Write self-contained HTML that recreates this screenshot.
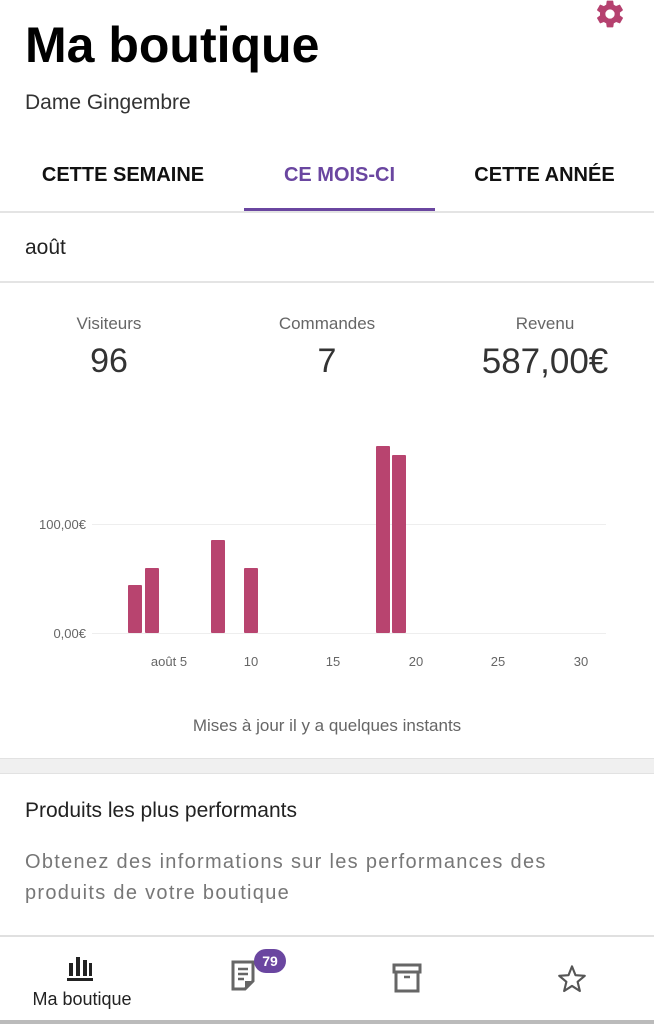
<!DOCTYPE html>
<html><head><meta charset="utf-8"><style>
body{margin:0;width:654px;height:1024px;background:#fff;font-family:"Liberation Sans",sans-serif;position:relative;overflow:hidden;color:#222}
.a{position:absolute}
</style></head><body>
<div class="a" style="left:25px;top:16px;font-size:50px;font-weight:bold;color:#000">Ma boutique</div>
<svg class="a" style="left:594px;top:-2px" width="32" height="32" viewBox="0 0 24 24"><path fill="#b5416f" d="M19.4 13c.04-.3.06-.65.06-1s-.02-.7-.07-1l2.1-1.650c.2-.15.24-.42.12-.64l-2-3.46c-.12-.22-.39-.3-.61-.22l-2.490 1c-.52-.4-1.080-.73-1.690-.98l-.38-2.65A.49.49 0 0 0 14 2h-4c-.25 0-.46.18-.49.42l-.38 2.65c-.61.25-1.170.59-1.690.98l-2.49-1c-.23-.09-.49 0-.61.22l-2 3.46c-.13.22-.07.49.12.64L4.57 11c-.04.32-.07.66-.07 1s.02.68.07 1l-2.11 1.65c-.19.15-.24.42-.12.64l2 3.46c.12.22.39.3.61.22l2.49-1c.52.4 1.08.73 1.69.98l.38 2.65c.03.24.24.42.49.42h4c.25 0 .46-.18.49-.42l.38-2.65c.61-.25 1.17-.59 1.69-.98l2.49 1c.23.09.49 0 .61-.22l2-3.46c.12-.22.07-.49-.12-.64L19.4 13zM12 15.5A3.5 3.5 0 1 1 12 8.5a3.5 3.5 0 0 1 0 7z"/></svg>
<div class="a" style="left:25px;top:91px;font-size:21px;color:#333">Dame Gingembre</div>
<div class="a" style="left:0;top:164px;width:246px;text-align:center;font-size:20px;font-weight:bold;color:#111">CETTE SEMAINE</div>
<div class="a" style="left:244px;top:164px;width:191px;text-align:center;font-size:20px;font-weight:bold;color:#6a46a0">CE MOIS-CI</div>
<div class="a" style="left:435px;top:164px;width:219px;text-align:center;font-size:20px;font-weight:bold;color:#111">CETTE ANNÉE</div>
<div class="a" style="left:244px;top:208px;width:191px;height:3px;background:#6a46a0"></div>
<div class="a" style="left:0;top:211px;width:654px;height:2px;background:#e4e4e4"></div>
<div class="a" style="left:25px;top:236px;font-size:21px;color:#222">août</div>
<div class="a" style="left:0;top:281px;width:654px;height:2px;background:#e4e4e4"></div>
<div class="a" style="left:30px;top:314px;width:158px;text-align:center;font-size:17px;color:#666">Visiteurs</div>
<div class="a" style="left:30px;top:342px;width:158px;text-align:center;font-size:34px;color:#333">96</div>
<div class="a" style="left:247px;top:314px;width:160px;text-align:center;font-size:17px;color:#666">Commandes</div>
<div class="a" style="left:247px;top:342px;width:160px;text-align:center;font-size:34px;color:#333">7</div>
<div class="a" style="left:465px;top:314px;width:160px;text-align:center;font-size:17px;color:#666">Revenu</div>
<div class="a" style="left:460px;top:342px;width:170px;text-align:center;font-size:35px;color:#333">587,00€</div>
<svg class="a" style="left:0;top:0" width="654" height="700">
<line x1="92" y1="524.5" x2="606" y2="524.5" stroke="#eee"/>
<line x1="92" y1="633.5" x2="606" y2="633.5" stroke="#eee"/>
<g font-family="Liberation Sans" font-size="13" fill="#666">
<text x="86" y="529" text-anchor="end">100,00€</text>
<text x="86" y="638" text-anchor="end">0,00€</text>
<text x="169" y="666" text-anchor="middle">août 5</text>
<text x="251" y="666" text-anchor="middle">10</text>
<text x="333" y="666" text-anchor="middle">15</text>
<text x="416" y="666" text-anchor="middle">20</text>
<text x="498" y="666" text-anchor="middle">25</text>
<text x="581" y="666" text-anchor="middle">30</text>
</g>
<g fill="#b8446f">
<rect x="128" y="585" width="14" height="48" rx="1"/>
<rect x="145" y="568" width="14" height="65" rx="1"/>
<rect x="211" y="540" width="14" height="93" rx="1"/>
<rect x="244" y="568" width="14" height="65" rx="1"/>
<rect x="376" y="446" width="14" height="187" rx="1"/>
<rect x="392" y="455" width="14" height="178" rx="1"/>
</g>
</svg>
<div class="a" style="left:0;top:716px;width:654px;text-align:center;font-size:17px;color:#666">Mises à jour il y a quelques instants</div>
<div class="a" style="left:0;top:758px;width:654px;height:14px;background:#f0f0f0;border-top:1px solid #e2e2e2;border-bottom:1px solid #e2e2e2"></div>
<div class="a" style="left:25px;top:799px;font-size:21px;color:#222">Produits les plus performants</div>
<div class="a" style="left:25px;top:847px;font-size:20px;letter-spacing:1.3px;line-height:31px;color:#777;white-space:nowrap">Obtenez des informations sur les performances des<br>produits de votre boutique</div>
<div class="a" style="left:0;top:935px;width:654px;height:2px;background:#e0e0e0"></div>
<svg class="a" style="left:66px;top:953px" width="32" height="30"><rect x="3" y="10" width="4" height="13" fill="#222"/><rect x="10" y="4" width="4" height="19" fill="#222"/><rect x="17" y="7" width="4" height="16" fill="#222"/><rect x="23" y="10" width="3" height="13" fill="#222"/><rect x="1" y="25" width="26" height="3" fill="#222"/></svg>
<div class="a" style="left:0;top:989px;width:164px;text-align:center;font-size:18px;color:#222">Ma boutique</div>
<svg class="a" style="left:230px;top:960px" width="30" height="36"><path d="M3 2h20v19l-8 8H3z" fill="none" stroke="#666" stroke-width="3"/><path d="M8 9h10M8 14h10M8 19h6" stroke="#666" stroke-width="2.5"/><path d="M15 29v-8h8z" fill="#666"/></svg>
<div class="a" style="left:254px;top:949px;width:32px;height:24px;border-radius:12px;background:#6a46a0;color:#fff;font-size:14px;font-weight:bold;text-align:center;line-height:24px">79</div>
<svg class="a" style="left:392px;top:963px" width="32" height="32"><rect x="2" y="2" width="26" height="7" fill="none" stroke="#666" stroke-width="3"/><path d="M4 9v19h22V9" fill="none" stroke="#666" stroke-width="3"/><path d="M12 14h6" stroke="#666" stroke-width="2.5"/></svg>
<svg class="a" style="left:556px;top:963px" width="32" height="32" viewBox="0 0 24 24"><path d="M12 2.5l2.6 6.6 7 .5-5.4 4.5 1.7 6.9L12 17.2 6.1 21l1.7-6.9L2.4 9.6l7-.5z" fill="none" stroke="#555" stroke-width="1.6" stroke-linejoin="round"/></svg>
<div class="a" style="left:0;top:1020px;width:654px;height:4px;background:#bbb"></div>
</body></html>
